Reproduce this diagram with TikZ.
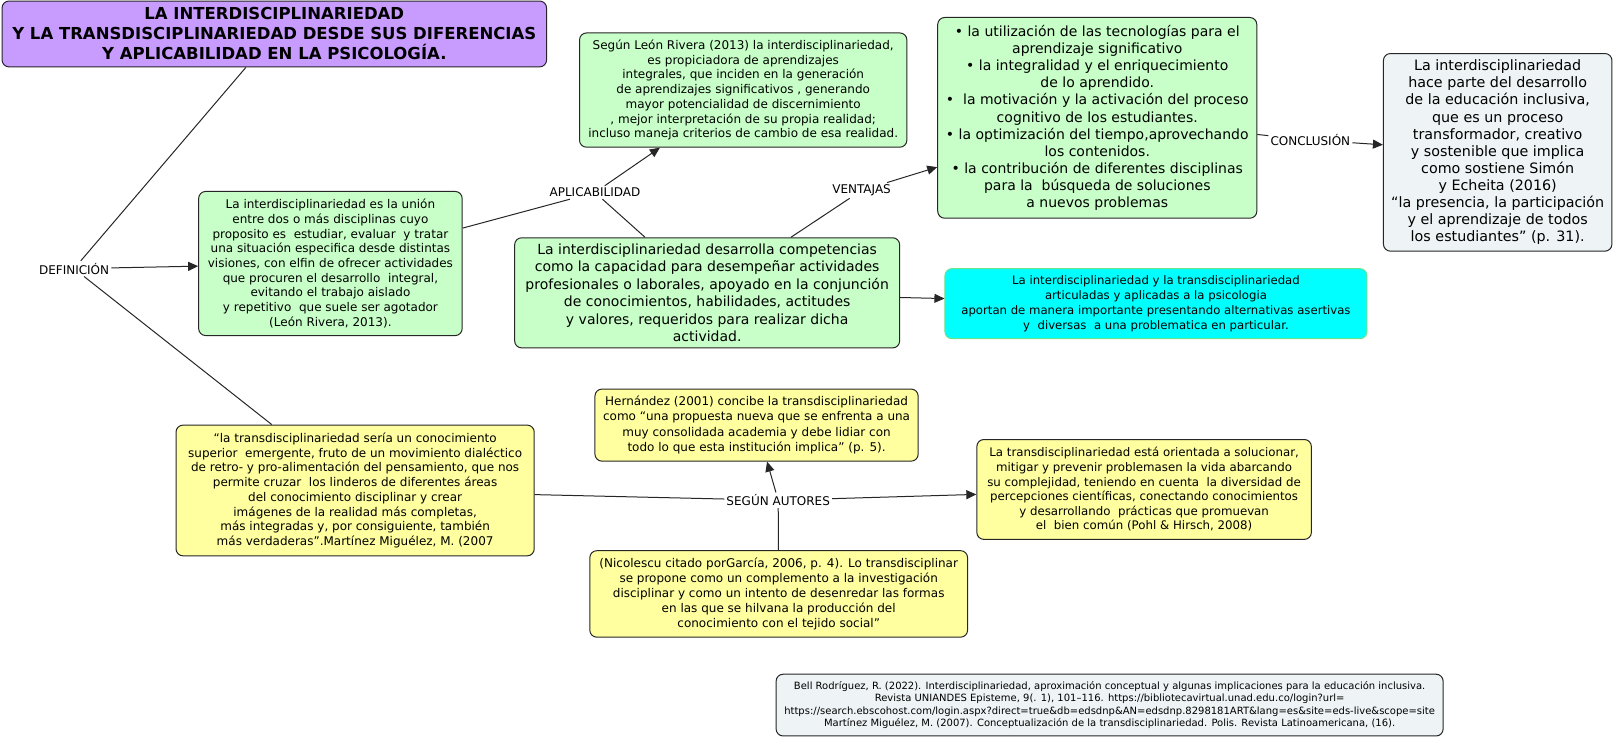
\documentclass[tikz,border=0pt]{standalone}
\usepackage{fontspec}
\setmainfont{DejaVu Sans}
\usetikzlibrary{arrows.meta}
\definecolor{titlec}{RGB}{200,155,255}
\definecolor{greenc}{RGB}{200,255,200}
\definecolor{grayc}{RGB}{238,243,245}
\definecolor{cyanc}{RGB}{0,255,255}
\definecolor{cyanb}{RGB}{110,225,140}
\definecolor{yellowc}{RGB}{255,255,160}
\newcommand{\fs}[2]{\fontsize{#1}{#2}\selectfont}
\tikzset{
  box/.style={draw=black!85, line width=1pt, rounded corners=7pt, align=center, inner sep=0pt},
  lbl/.style={inner sep=2pt, font=\fs{12}{14}},
  conn/.style={draw=black!85, line width=1pt},
  arr/.style={conn, -{Triangle[length=10pt,width=9pt]}}
}
% box from corner (x1,y1) to (x2,y2) in picture units
\newcommand{\boxnode}[7]{%
  \pgfmathsetmacro\bxw{(#5-#3)*1.0293}%
  \pgfmathsetmacro\bxh{(#6-#4)*1.0293}%
  \node[box,#2,minimum width=\bxw pt,minimum height=\bxh pt] (#1) at ({(#3+#5)/2},{(#4+#6)/2}) {#7};}
\begin{document}
\begin{tikzpicture}[x=1.0293pt,y=-1.0293pt]
\useasboundingbox (0,0) rectangle (1568,718);
% boxes
\boxnode{title}{fill=titlec, font=\bfseries\fs{16.5}{20}}{2}{1}{531}{65}
 {LA INTERDISCIPLINARIEDAD\\Y LA TRANSDISCIPLINARIEDAD DESDE SUS DIFERENCIAS\\Y APLICABILIDAD EN LA PSICOLOGÍA.}
\boxnode{def}{fill=greenc, font=\fs{12}{14.7}}{193}{186}{449}{326}
 {La interdisciplinariedad es la unión\\entre dos o más disciplinas cuyo\\proposito es\ \ estudiar, evaluar\ \ y tratar\\una situación especifica desde distintas\\visiones, con elfin de ofrecer actividades\\que procuren el desarrollo\ \ integral,\\evitando el trabajo aislado\\y repetitivo\ \ que suele ser agotador\\(León Rivera, 2013).}
\boxnode{leon}{fill=greenc, font=\fs{12}{14.7}}{563}{32}{881}{143}
 {Según León Rivera (2013) la interdisciplinariedad,\\es propiciadora de aprendizajes\\integrales, que inciden en la generación\\de aprendizajes significativos , generando\\mayor potencialidad de discernimiento\\, mejor interpretación de su propia realidad;\\incluso maneja criterios de cambio de esa realidad.}
\boxnode{comp}{fill=greenc, font=\fs{14}{17.4}}{500}{231}{874}{338}
 {La interdisciplinariedad desarrolla competencias\\como la capacidad para desempeñar actividades\\profesionales o laborales, apoyado en la conjunción\\de conocimientos, habilidades, actitudes\\y valores, requeridos para realizar dicha\\actividad.}
\boxnode{vent}{fill=greenc, font=\fs{14}{17}}{911}{17}{1221}{212}
 {• la utilización de las tecnologías para el\\aprendizaje significativo\\• la integralidad y el enriquecimiento\\de lo aprendido.\\•\ \ la motivación y la activación del proceso\\cognitivo de los estudiantes.\\• la optimización del tiempo,aprovechando\\los contenidos.\\• la contribución de diferentes disciplinas\\para la\ \ búsqueda de soluciones\\a nuevos problemas}
\boxnode{concl}{fill=grayc, font=\fs{14.3}{17.1}}{1344}{52}{1566}{244}
 {La interdisciplinariedad\\hace parte del desarrollo\\de la educación inclusiva,\\que es un proceso\\transformador, creativo\\y sostenible que implica\\como sostiene Simón\\y Echeita (2016)\\“la presencia, la participación\\y el aprendizaje de todos\\los estudiantes” (p. 31).}
\boxnode{cyan}{draw=cyanb, fill=cyanc, font=\fs{11.7}{15}}{918}{261}{1328}{329}
 {La interdisciplinariedad y la transdisciplinariedad\\articuladas y aplicadas a la psicologia\\aportan de manera importante presentando alternativas asertivas\\y\ \ diversas\ \ a una problematica en particular.}
\boxnode{hern}{fill=yellowc, font=\fs{12}{15.5}}{578}{378}{892}{448}
 {Hernández (2001) concibe la transdisciplinariedad\\como “una propuesta nueva que se enfrenta a una\\muy consolidada academia y debe lidiar con\\todo lo que esta institución implica” (p. 5).}
\boxnode{mart}{fill=yellowc, font=\fs{12}{14.7}}{171}{413}{519}{540}
 {“la transdisciplinariedad sería un conocimiento\\superior\ \ emergente, fruto de un movimiento dialéctico\\de retro- y pro-alimentación del pensamiento, que nos\\permite cruzar\ \ los linderos de diferentes áreas\\del conocimiento disciplinar y crear\\imágenes de la realidad más completas,\\más integradas y, por consiguiente, también\\más verdaderas”.Martínez Miguélez, M. (2007}
\boxnode{pohl}{fill=yellowc, font=\fs{11.8}{14.6}}{949}{427}{1274}{524}
 {La transdisciplinariedad está orientada a solucionar,\\mitigar y prevenir problemasen la vida abarcando\\su complejidad, teniendo en cuenta\ \ la diversidad de\\percepciones científicas, conectando conocimientos\\y desarrollando\ \ prácticas que promuevan\\el\ \ bien común (Pohl \& Hirsch, 2008)}
\boxnode{nico}{fill=yellowc, font=\fs{12}{14.9}}{573}{535}{940}{619}
 {(Nicolescu citado porGarcía, 2006, p. 4). Lo transdisciplinar\\se propone como un complemento a la investigación\\disciplinar y como un intento de desenredar las formas\\en las que se hilvana la producción del\\conocimiento con el tejido social”}
\boxnode{refs}{fill=grayc, font=\fs{10}{12.4}}{754}{655}{1402}{715}
 {Bell Rodríguez, R. (2022). Interdisciplinariedad, aproximación conceptual y algunas implicaciones para la educación inclusiva.\\Revista UNIANDES Episteme, 9(. 1), 101–116. https://bibliotecavirtual.unad.edu.co/login?url=\\https://search.ebscohost.com/login.aspx?direct=true\&db=edsdnp\&AN=edsdnp.8298181ART\&lang=es\&site=eds-live\&scope=site\\Martínez Miguélez, M. (2007). Conceptualización de la transdisciplinariedad. Polis. Revista Latinoamericana, (16).}
% labels
\node[lbl] (ldef) at (72,261) {DEFINICIÓN};
\node[lbl] (lapl) at (578,187) {APLICABILIDAD};
\node[lbl] (lven) at (837,185) {VENTAJAS};
\node[lbl] (lcon) at (1273,136) {CONCLUSIÓN};
\node[lbl] (laut) at (756,486) {SEGÚN AUTORES};
% connectors
\draw[conn] (title) -- (ldef);
\draw[conn] (ldef) -- (mart);
\draw[arr] (ldef) -- (def);
\draw[conn] (def) -- (lapl);
\draw[conn] (comp) -- (lapl);
\draw[arr] (lapl) -- (leon);
\draw[conn] (comp) -- (lven);
\draw[arr] (lven) -- (vent);
\draw[conn] (vent) -- (lcon);
\draw[arr] (lcon) -- (concl);
\draw[arr] (comp) -- (cyan);
\draw[conn] (mart) -- (laut);
\draw[arr] (laut) -- (pohl);
\draw[arr] (laut) -- (hern);
\draw[conn] (nico) -- (laut);
\end{tikzpicture}
\end{document}
